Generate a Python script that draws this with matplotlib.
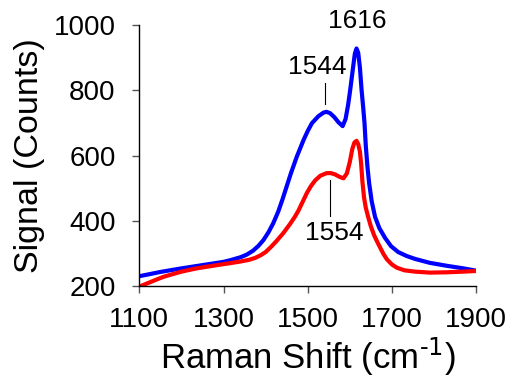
import matplotlib
matplotlib.use("Agg")
import matplotlib.pyplot as plt

plt.rcParams["font.family"] = ["Liberation Sans", "DejaVu Sans"]
plt.rcParams["mathtext.default"] = "regular"

# Raman shift (cm-1) and signal (counts)
blue_x = [1100, 1150, 1200, 1250, 1300, 1316, 1340, 1355, 1370, 1383, 1395, 1407,
          1418, 1430, 1440, 1450, 1460, 1474, 1490, 1500, 1510, 1525, 1537, 1544,
          1553, 1563, 1573, 1583, 1590, 1596, 1601, 1608, 1612, 1616, 1620, 1624,
          1628, 1632, 1635, 1638, 1642, 1646, 1652, 1660, 1670, 1684, 1698, 1715,
          1735, 1755, 1790, 1830, 1870, 1900]
blue_y = [230, 243, 254, 264, 274, 279, 288, 296, 308, 323, 341, 365,
          392, 428, 465, 505, 545, 596, 647, 675, 699, 720, 731, 734,
          730, 718, 702, 690, 712, 755, 801, 872, 912, 928, 915, 870,
          801, 745, 699, 630, 565, 515, 460, 412, 378, 347, 322, 304,
          292, 283, 271, 262, 254, 247]

red_x = [1100, 1130, 1157, 1200, 1236, 1270, 1300, 1316, 1340, 1360, 1375, 1388,
         1400, 1413, 1426, 1442, 1458, 1470, 1478, 1488, 1498, 1508, 1518, 1530,
         1545, 1555, 1565, 1575, 1585, 1593, 1600, 1606, 1611, 1616, 1620, 1624,
         1627, 1630, 1634, 1638, 1644, 1650, 1658, 1665, 1672, 1680, 1688, 1700,
         1712, 1730, 1755, 1791, 1830, 1870, 1900]
red_y = [198, 214, 228, 244, 254, 261, 267, 270, 275, 280, 286, 294,
         304, 320, 338, 362, 390, 413, 431, 458, 485, 507, 524, 538,
         546, 546, 542, 535, 530, 545, 580, 620, 640, 645, 635, 612,
         575, 520, 470, 440, 410, 383, 355, 336, 318, 298, 282, 266,
         256, 248, 244, 241, 242, 244, 246]

x_ticks = [1100, 1300, 1500, 1700, 1900]
y_ticks = [200, 400, 600, 800, 1000]

fig = plt.figure(figsize=(5.09, 3.79), dpi=100)
ax = fig.add_axes([0.2737, 0.2454, 0.6616, 0.6886])

ax.plot(blue_x, blue_y, color="#0000ff", lw=3, solid_joinstyle="round")
ax.plot(red_x, red_y, color="#ff0000", lw=3, solid_joinstyle="round")

ax.set_xlim(1100, 1900)
ax.set_ylim(200, 1000)
ax.set_xticks(x_ticks)
ax.set_yticks(y_ticks)
ax.tick_params(direction="out", length=5, width=1, color="#555555",
               labelsize=20, pad=10)
ax.tick_params(axis="y", pad=12)
for s in ["top", "right"]:
    ax.spines[s].set_visible(False)
for s in ["left", "bottom"]:
    ax.spines[s].set_linewidth(1)

ax.set_xlabel("Raman Shift (cm$^{\\text{-1}}$)", fontsize=25, labelpad=2)
ax.set_ylabel("Signal (Counts)", fontsize=24.5, labelpad=6)

# peak labels
ax.text(1617, 1012, "1616", fontsize=19, ha="center", va="center", clip_on=False)
ax.text(1523, 872, "1544", fontsize=19, ha="center", va="center")
ax.plot([1540, 1540], [758, 821], color="black", lw=0.8)
ax.text(1563, 362, "1554", fontsize=19, ha="center", va="center")
ax.plot([1553, 1553], [415, 525], color="black", lw=0.8)

fig.savefig("out.png", dpi=100)
